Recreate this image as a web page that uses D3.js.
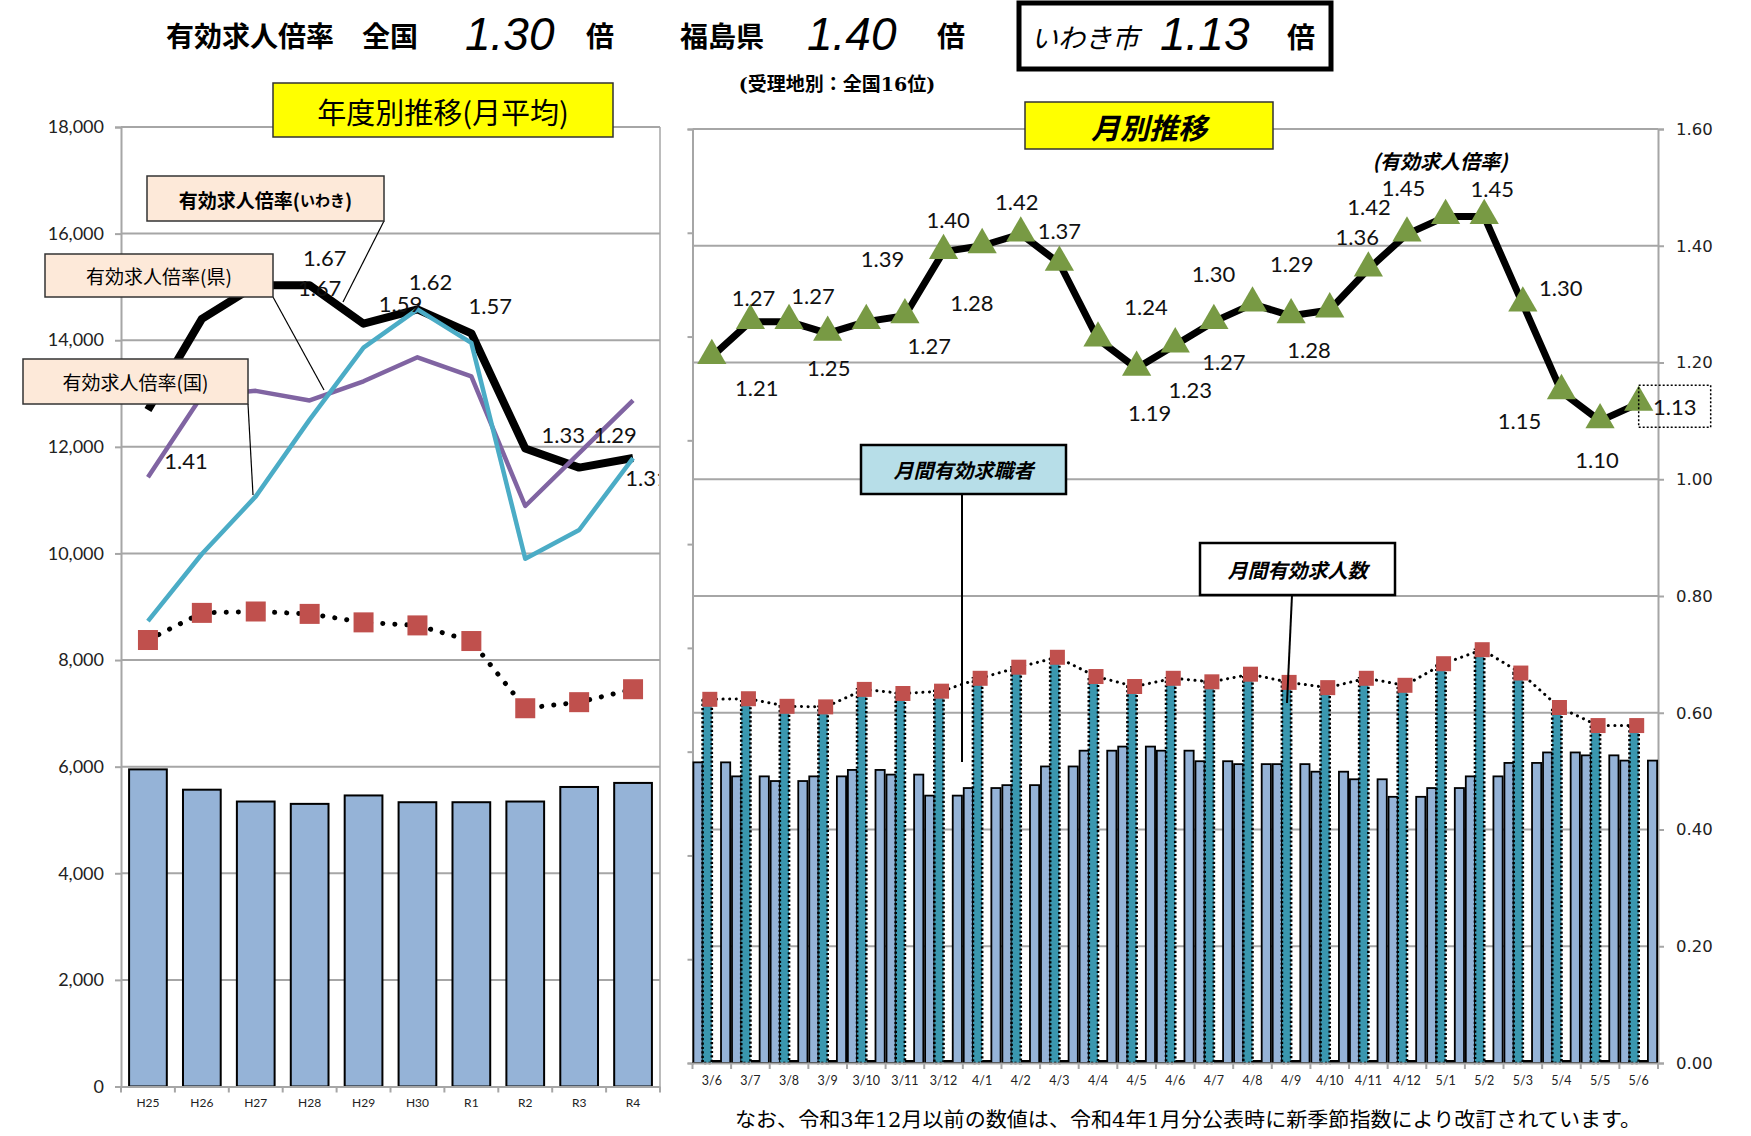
<!DOCTYPE html>
<html><head><meta charset="utf-8">
<script src="https://cdn.jsdelivr.net/npm/d3@7"></script>
<style>html,body{margin:0;padding:0;background:#fff;} svg{display:block;}</style>
</head><body>
<svg id="c" width="1751" height="1136"></svg>
<script>
// ================= DATA =================
const headlineValues = ["1.30", "1.40", "1.13"];            // 全国, 福島県, いわき市
const fyCats = ["H25","H26","H27","H28","H29","H30","R1","R2","R3","R4"];
const fySeekers  = [5949, 5568, 5346, 5302, 5460, 5333, 5333, 5346, 5619, 5695];   // 有効求職者 (bars)
const fyOpenings = [8376, 8885, 8911, 8866, 8707, 8650, 8357, 7096, 7210, 7453];   // 有効求人数 (squares)
const fyRatioIwaki  = [1.41, 1.60, 1.67, 1.67, 1.59, 1.62, 1.57, 1.33, 1.29, 1.31];
const fyRatioPref   = [1.27, 1.44, 1.45, 1.43, 1.47, 1.52, 1.48, 1.21, 1.32, 1.43];
const fyRatioNation = [0.97, 1.11, 1.23, 1.39, 1.54, 1.62, 1.55, 1.10, 1.16, 1.31];
const leftTicks = [0,2000,4000,6000,8000,10000,12000,14000,16000,18000];

const monthCats = ["3/6","3/7","3/8","3/9","3/10","3/11","3/12","4/1","4/2","4/3","4/4","4/5","4/6",
                   "4/7","4/8","4/9","4/10","4/11","4/12","5/1","5/2","5/3","5/4","5/5","5/6"];
const monthSeekers  = [5794,5524,5434,5524,5648,5558,5153,5299,5355,5715,6019,6098,6019,
                       5816,5760,5760,5614,5468,5130,5299,5524,5783,5985,5929,5828];
const monthOpenings = [7009,7020,6874,6863,7200,7121,7166,7414,7628,7819,7448,7256,7414,
                       7346,7493,7335,7234,7414,7279,7695,7965,7515,6851,6503,6503];
const monthRatio    = [1.21,1.27,1.27,1.25,1.27,1.28,1.39,1.40,1.42,1.37,1.24,1.19,1.23,
                       1.27,1.30,1.28,1.29,1.36,1.42,1.45,1.45,1.30,1.15,1.10,1.13];
const rightTicks = [0,0.2,0.4,0.6,0.8,1.0,1.2,1.4,1.6];
const hiddenCountTicks = [0,2000,4000,6000,8000,10000,12000,14000,16000,18000];

// label placement (offsets from the point, px); null = label hidden under the callout box in the original
const fyLabelOffsets = [[38,50],null,[69,-28],[10,2],[37,-20],[13,-28],[19,-28],[38,-14],[36,-33],[14,19]];
const monthLabelOffsets = [[45,31],[3,-24],[24,-26],[1,34],[63,24],[67,-13],[-61,7],[-34,-26],[-4,-33],[0,-33],
  [48,-33],[13,44],[15,45],[10,40],[-39,-31],[18,34],[-38,-46],[-11,-33],[-38,-28],[-42,-29],[8,-28],[38,-17],
  [-42,29],[-3,39],[36,3]];

// ================= DRAW =================
const svg = d3.select("#c");
const GRID = "#A6A6A6";
const NUMF = "Lato, 'Noto Sans', sans-serif";
const JPF = "'Noto Sans CJK JP', 'Noto Sans', sans-serif";

// ---------- Headline ----------
const head = svg.append("g");
function htext(x, y, s, opt) {
  const t = head.append("text").attr("x", x).attr("y", y).text(s)
    .attr("dominant-baseline", "central")
    .attr("font-family", opt.f || JPF).attr("font-size", opt.s).attr("font-weight", opt.w || 700)
    .attr("font-style", opt.i ? "italic" : "normal").attr("fill", "#000");
  if (opt.a) t.attr("text-anchor", opt.a);
  return t;
}
htext(166, 35, "有効求人倍率", {s: 28});
htext(362, 35, "全国", {s: 28});
htext(465, 34, headlineValues[0], {s: 46, f: "'Liberation Sans', Arial, sans-serif", w: 400, i: true});
htext(586, 35, "倍", {s: 28});
htext(680, 35, "福島県", {s: 28});
htext(807, 34, headlineValues[1], {s: 46, f: "'Liberation Sans', Arial, sans-serif", w: 400, i: true});
htext(937, 35, "倍", {s: 28});
head.append("rect").attr("x", 1019).attr("y", 3).attr("width", 312).attr("height", 66)
  .attr("fill", "#fff").attr("stroke", "#000").attr("stroke-width", 5);
htext(1031, 36, "いわき市", {s: 27, w: 400, i: true});
htext(1160, 34, headlineValues[2], {s: 46, f: "'Liberation Sans', Arial, sans-serif", w: 400, i: true});
htext(1287, 36, "倍", {s: 28});
htext(837, 84, "(受理地別：全国16位)", {s: 19, a: "middle", f: "'DejaVu Serif', " + JPF, w: 700});

// ---------- LEFT CHART ----------
const L = {x0: 121, x1: 660, y0: 1086.5, y1: 127};
const yL = d3.scaleLinear().domain([0, 18000]).range([L.y0, L.y1]);
const yLr = d3.scaleLinear().domain([0, 2]).range([L.y0, L.y1]);
const xL = d3.scaleBand().domain(fyCats).range([L.x0, L.x1]).paddingInner(0.3).paddingOuter(0.15);
const cxL = c => xL(c) + xL.bandwidth() / 2;
const gl = svg.append("g");

gl.selectAll("line.grid").data(leftTicks.filter(t => t > 0)).enter().append("line")
  .attr("x1", L.x0).attr("x2", L.x1).attr("y1", d => yL(d)).attr("y2", d => yL(d))
  .attr("stroke", GRID).attr("stroke-width", 2);
gl.append("line").attr("x1", L.x1).attr("x2", L.x1).attr("y1", L.y1).attr("y2", L.y0)
  .attr("stroke", GRID).attr("stroke-width", 1.5);

const axL = gl.append("g").attr("transform", `translate(${L.x0},0)`)
  .call(d3.axisLeft(yL).tickValues(leftTicks).tickFormat(d3.format(",")).tickSize(6).tickPadding(11));
axL.select(".domain").attr("stroke", GRID).attr("stroke-width", 2);
axL.selectAll(".tick line").attr("stroke", GRID).attr("stroke-width", 2);
axL.selectAll(".tick text").attr("font-family", NUMF).attr("font-size", 18).attr("fill", "#222");

// bars
gl.selectAll("rect.bar").data(fyCats).enter().append("rect")
  .attr("x", c => xL(c)).attr("width", xL.bandwidth())
  .attr("y", (c, i) => yL(fySeekers[i])).attr("height", (c, i) => yL(0) - yL(fySeekers[i]))
  .attr("fill", "#95B3D7").attr("stroke", "#000").attr("stroke-width", 2);

// x axis
const axLB = gl.append("g").attr("transform", `translate(0,${L.y0})`)
  .call(d3.axisBottom(xL).tickSize(0).tickPadding(12));
axLB.select(".domain").attr("stroke", GRID).attr("stroke-width", 2);
axLB.selectAll(".tick text").attr("font-family", NUMF).attr("font-size", 12).attr("fill", "#222");
gl.selectAll("line.xt").data(d3.range(fyCats.length + 1)).enter().append("line")
  .attr("x1", k => L.x0 + k * xL.step()).attr("x2", k => L.x0 + k * xL.step())
  .attr("y1", L.y0).attr("y2", L.y0 + 6).attr("stroke", GRID).attr("stroke-width", 2);

// openings dotted line with squares
const lineL = d3.line().x((d, i) => cxL(fyCats[i])).y(d => yL(d));
gl.append("path").datum(fyOpenings).attr("d", lineL).attr("fill", "none")
  .attr("stroke", "#000").attr("stroke-width", 5).attr("stroke-linecap", "round")
  .attr("stroke-dasharray", "0.1,12");
gl.selectAll("rect.sq").data(fyOpenings).enter().append("rect")
  .attr("x", (d, i) => cxL(fyCats[i]) - 10).attr("y", d => yL(d) - 10)
  .attr("width", 20).attr("height", 20).attr("fill", "#C0504D");

// ratio lines
const lineR = d3.line().x((d, i) => cxL(fyCats[i])).y(d => yLr(d));
gl.append("path").datum(fyRatioIwaki).attr("d", lineR).attr("fill", "none")
  .attr("stroke", "#000").attr("stroke-width", 8).attr("stroke-linejoin", "round");
gl.append("path").datum(fyRatioPref).attr("d", lineR).attr("fill", "none")
  .attr("stroke", "#8064A2").attr("stroke-width", 4.5).attr("stroke-linejoin", "round");
gl.append("path").datum(fyRatioNation).attr("d", lineR).attr("fill", "none")
  .attr("stroke", "#4BACC6").attr("stroke-width", 4.5).attr("stroke-linejoin", "round");

// labels (iwaki)
svg.append("defs").append("clipPath").attr("id", "clipL").append("rect")
  .attr("x", 0).attr("y", 0).attr("width", L.x1 - 1).attr("height", 1136);
const fyLbl = fyRatioIwaki.map((v, i) => ({v, i})).filter(d => fyLabelOffsets[d.i]);
gl.append("g").attr("clip-path", "url(#clipL)").selectAll("text").data(fyLbl).enter().append("text")
  .attr("x", d => cxL(fyCats[d.i]) + fyLabelOffsets[d.i][0])
  .attr("y", d => yLr(d.v) + fyLabelOffsets[d.i][1])
  .attr("text-anchor", "middle").attr("dominant-baseline", "central")
  .attr("font-family", NUMF).attr("font-size", 22).attr("fill", "#111")
  .text(d => d3.format(".2f")(d.v));

// callouts left
function callout(g, box, text, lead, opt) {
  g.append("line").attr("x1", lead[0]).attr("y1", lead[1]).attr("x2", lead[2]).attr("y2", lead[3])
    .attr("stroke", "#000").attr("stroke-width", opt.lw || 1.2);
  g.append("rect").attr("x", box[0]).attr("y", box[1]).attr("width", box[2] - box[0]).attr("height", box[3] - box[1])
    .attr("fill", opt.fill).attr("stroke", opt.stroke || "#333").attr("stroke-width", opt.sw || 1.5);
  const t = g.append("text").attr("x", (box[0] + box[2]) / 2).attr("y", (box[1] + box[3]) / 2)
    .attr("text-anchor", "middle").attr("dominant-baseline", "central")
    .attr("font-family", JPF).attr("font-size", opt.fs).attr("font-weight", opt.w || 400)
    .attr("font-style", opt.i ? "italic" : "normal").attr("fill", "#000");
  if (Array.isArray(text)) {
    text.forEach(p => t.append("tspan").attr("font-size", p[1]).text(p[0]));
  } else t.text(text);
}
callout(gl, [147, 176, 384, 221], [["有効求人倍率(", 19], ["いわき", 15], [")", 19]], [384, 221, 343, 302], {fill: "#FDE9D9", fs: 19, w: 700});
callout(gl, [45, 254, 273, 297], "有効求人倍率(県)", [273, 297, 324, 390], {fill: "#FDE9D9", fs: 19});
callout(gl, [23, 359, 248, 404], "有効求人倍率(国)", [248, 404, 253, 495], {fill: "#FDE9D9", fs: 19});

// left title
gl.append("rect").attr("x", 273).attr("y", 83).attr("width", 340).attr("height", 54)
  .attr("fill", "#FFFF00").attr("stroke", "#333").attr("stroke-width", 1.5);
gl.append("text").attr("x", 443).attr("y", 111).attr("text-anchor", "middle").attr("dominant-baseline", "central")
  .attr("font-family", JPF).attr("font-size", 29).attr("fill", "#000").text("年度別推移(月平均)");

// ---------- RIGHT CHART ----------
const R = {x0: 692.5, x1: 1658, y0: 1063, y1: 129};
const xR = d3.scaleBand().domain(monthCats).range([R.x0, R.x1]);
const cxR = c => xR(c) + xR.bandwidth() / 2;
const yR = d3.scaleLinear().domain([0, 1.6]).range([R.y0, R.y1]);
const yRc = d3.scaleLinear().domain([0, 18000]).range([R.y0, R.y1]);
const half = xR.bandwidth() * 0.477;
const sub = d3.scaleBand().domain(["s1", "open", "zero", "s2"]).range([-half, half]);
const gr = svg.append("g");

gr.selectAll("line.grid").data(rightTicks.filter(t => t > 0)).enter().append("line")
  .attr("x1", R.x0).attr("x2", R.x1).attr("y1", d => yR(d)).attr("y2", d => yR(d))
  .attr("stroke", GRID).attr("stroke-width", 2);

const axRL = gr.append("g").attr("transform", `translate(${R.x0},0)`)
  .call(d3.axisLeft(yRc).tickValues(hiddenCountTicks).tickFormat("").tickSize(5));
axRL.select(".domain").attr("stroke", GRID).attr("stroke-width", 2);
axRL.selectAll(".tick line").attr("stroke", GRID).attr("stroke-width", 2);

const axRR = gr.append("g").attr("transform", `translate(${R.x1},0)`)
  .call(d3.axisRight(yR).tickValues(rightTicks).tickFormat(d3.format(".2f")).tickSize(6).tickPadding(12));
axRR.select(".domain").attr("stroke", GRID).attr("stroke-width", 2);
axRR.selectAll(".tick line").attr("stroke", GRID).attr("stroke-width", 2);
axRR.selectAll(".tick text").attr("font-family", "'DejaVu Sans', Verdana, sans-serif").attr("font-size", 16.5).attr("fill", "#222");

// bars
const gb = gr.append("g");
["s1", "s2"].forEach(k => {
  gb.selectAll("rect." + k).data(monthCats).enter().append("rect")
    .attr("x", c => cxR(c) + sub(k)).attr("width", sub.bandwidth())
    .attr("y", (c, i) => yRc(monthSeekers[i])).attr("height", (c, i) => yRc(0) - yRc(monthSeekers[i]))
    .attr("fill", "#95B3D7").attr("stroke", "#000").attr("stroke-width", 1.8);
});
gb.selectAll("rect.zero").data(monthCats).enter().append("rect")
  .attr("x", c => cxR(c) + sub("zero")).attr("width", sub.bandwidth())
  .attr("y", yRc(0) - 3).attr("height", 3).attr("fill", "#000");
gb.selectAll("rect.open").data(monthCats).enter().append("rect")
  .attr("x", c => cxR(c) + sub("open")).attr("width", sub.bandwidth())
  .attr("y", (c, i) => yRc(monthOpenings[i])).attr("height", (c, i) => yRc(0) - yRc(monthOpenings[i]))
  .attr("fill", "#3A97AF").attr("stroke", "#000").attr("stroke-width", 2.6).attr("stroke-dasharray", "2.2,2.2");

// x axis
const axRB = gr.append("g").attr("transform", `translate(0,${R.y0})`)
  .call(d3.axisBottom(xR).tickSize(0).tickPadding(13));
axRB.select(".domain").attr("stroke", GRID).attr("stroke-width", 2);
axRB.selectAll(".tick text").attr("font-family", NUMF).attr("font-size", 12.5).attr("fill", "#222");
gr.selectAll("line.xt").data(d3.range(monthCats.length + 1)).enter().append("line")
  .attr("x1", k => R.x0 + k * xR.step()).attr("x2", k => R.x0 + k * xR.step())
  .attr("y1", R.y0).attr("y2", R.y0 + 6).attr("stroke", GRID).attr("stroke-width", 2);

// openings dotted line + squares
const lineMo = d3.line().x((d, i) => cxR(monthCats[i]) - 2).y(d => yRc(d));
gr.append("path").datum(monthOpenings).attr("d", lineMo).attr("fill", "none")
  .attr("stroke", "#000").attr("stroke-width", 3).attr("stroke-linecap", "round")
  .attr("stroke-dasharray", "0.1,6.5");
gr.selectAll("rect.sq").data(monthOpenings).enter().append("rect")
  .attr("x", (d, i) => cxR(monthCats[i]) - 2 - 7.5).attr("y", d => yRc(d) - 7.5)
  .attr("width", 15).attr("height", 15).attr("fill", "#C0504D");

// ratio line + triangles
const lineMr = d3.line().x((d, i) => cxR(monthCats[i])).y(d => yR(d));
gr.append("path").datum(monthRatio).attr("d", lineMr).attr("fill", "none")
  .attr("stroke", "#000").attr("stroke-width", 7).attr("stroke-linejoin", "round");
const tri = d3.symbol().type(d3.symbolTriangle).size(370);
gr.selectAll("path.tri").data(monthRatio).enter().append("path")
  .attr("d", tri).attr("transform", (d, i) => `translate(${cxR(monthCats[i])},${yR(d) - 1})`)
  .attr("fill", "#789A44");

// ratio labels
gr.selectAll("text.lbl").data(monthRatio).enter().append("text")
  .attr("x", (d, i) => cxR(monthCats[i]) + monthLabelOffsets[i][0])
  .attr("y", (d, i) => yR(d) + monthLabelOffsets[i][1])
  .attr("text-anchor", "middle").attr("dominant-baseline", "central")
  .attr("font-family", NUMF).attr("font-size", 22).attr("fill", "#111")
  .text(d => d3.format(".2f")(d));
// dotted box around the latest label
const lastI = monthRatio.length - 1;
gr.append("rect")
  .attr("x", cxR(monthCats[lastI]) + monthLabelOffsets[lastI][0] - 36)
  .attr("y", yR(monthRatio[lastI]) + monthLabelOffsets[lastI][1] - 21)
  .attr("width", 72).attr("height", 42).attr("fill", "none")
  .attr("stroke", "#000").attr("stroke-width", 1.5).attr("stroke-dasharray", "2,2");

gr.append("text").attr("x", 1440).attr("y", 160).attr("text-anchor", "middle").attr("dominant-baseline", "central")
  .attr("font-family", JPF).attr("font-size", 20).attr("font-weight", 700).attr("font-style", "italic")
  .text("(有効求人倍率)");

// right callouts
callout(gr, [861, 445, 1066, 494], "月間有効求職者", [962, 494, 962, 762], {fill: "#B7DEE8", stroke: "#000", sw: 2.5, fs: 20, w: 700, i: true, lw: 2});
callout(gr, [1200, 543, 1395, 595], "月間有効求人数", [1292, 595, 1287, 703], {fill: "#fff", stroke: "#000", sw: 2.5, fs: 20, w: 700, i: true, lw: 2});

// right title
gr.append("rect").attr("x", 1025).attr("y", 102).attr("width", 248).attr("height", 47)
  .attr("fill", "#FFFF00").attr("stroke", "#333").attr("stroke-width", 1.5);
gr.append("text").attr("x", 1149).attr("y", 126).attr("text-anchor", "middle").attr("dominant-baseline", "central")
  .attr("font-family", JPF).attr("font-size", 29).attr("font-weight", 700).attr("font-style", "italic")
  .text("月別推移");

// footnote
svg.append("text").attr("x", 735).attr("y", 1120).attr("dominant-baseline", "central")
  .attr("font-family", "'DejaVu Serif', " + JPF).attr("font-size", 20).attr("fill", "#000")
  .attr("textLength", 906).attr("lengthAdjust", "spacingAndGlyphs")
  .text("なお、令和3年12月以前の数値は、令和4年1月分公表時に新季節指数により改訂されています。");
</script>
</body></html>
